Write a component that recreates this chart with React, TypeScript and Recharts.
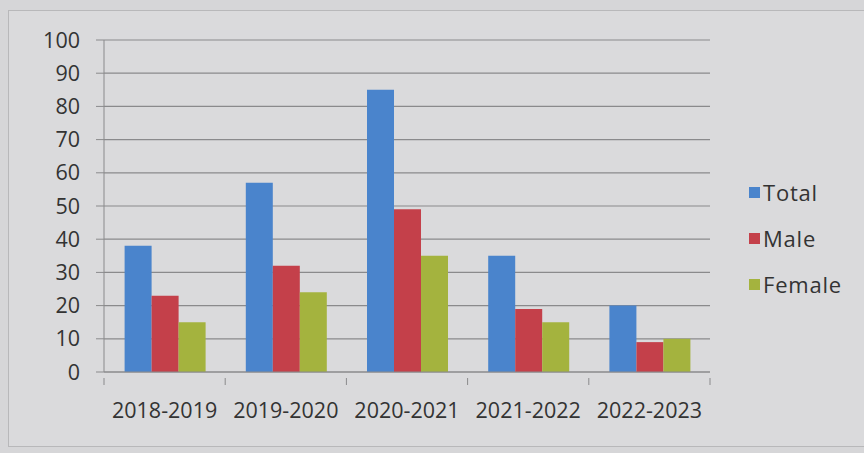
import React from 'react';
import { BarChart, Bar, XAxis, YAxis, CartesianGrid } from 'recharts';

const YEARS = ['2018-2019', '2019-2020', '2020-2021', '2021-2022', '2022-2023'];
const TOTAL = [38, 57, 85, 35, 20];
const MALE = [23, 32, 49, 19, 9];
const FEMALE = [15, 24, 35, 15, 10];
const Y_TICKS = [0, 10, 20, 30, 40, 50, 60, 70, 80, 90, 100];

const SERIES = [
  { key: 'Total', color: '#4a84cc' },
  { key: 'Male', color: '#c4404a' },
  { key: 'Female', color: '#a4b33e' },
];

const data = YEARS.map((year, i) => ({
  year,
  Total: TOTAL[i],
  Male: MALE[i],
  Female: FEMALE[i],
}));

const FONT = '"Open Sans", "Liberation Sans", sans-serif';
const AXIS = '#8a8a8c';

const W = 864;
const H = 453;
const M = { top: 40, right: 154, bottom: 20, left: 0 };
const Y_W = 104;
const HALF_BAND = (W - M.left - M.right - Y_W) / YEARS.length / 2;

// Excel puts category tick marks between the groups, not under them
const XTick = (props: any) => {
  const { x, y, payload, index } = props;
  const last = index === YEARS.length - 1;
  return (
    <g>
      <line x1={x - HALF_BAND} x2={x - HALF_BAND} y1={y - 2} y2={y + 5} stroke={AXIS} />
      {last && <line x1={x + HALF_BAND} x2={x + HALF_BAND} y1={y - 2} y2={y + 5} stroke={AXIS} />}
      <text
        x={x}
        y={y + 38}
        textAnchor="middle"
        fontFamily={FONT}
        fontSize={21.5}
        fill="#333"
      >
        {payload.value}
      </text>
    </g>
  );
};

const LegendBox = () => (
  <div
    style={{
      position: 'absolute',
      left: 749,
      top: 169,
      fontFamily: FONT,
      fontSize: 22,
      letterSpacing: 0.8,
      color: '#333',
    }}
  >
    {SERIES.map((s) => (
      <div key={s.key} style={{ display: 'flex', alignItems: 'center', height: 46 }}>
        <span style={{ width: 11, height: 11, background: s.color, marginRight: 3, display: 'inline-block' }} />
        <span>{s.key}</span>
      </div>
    ))}
  </div>
);

export default function App() {
  return (
    <div
      style={{
        position: 'fixed',
        left: 0,
        top: 0,
        width: W,
        height: H,
        background: '#d6d6d8',
      }}
    >
      <div
        style={{
          position: 'absolute',
          left: 8,
          top: 10,
          width: 870,
          height: 435,
          border: '1px solid #b8b8ba',
          background: '#dadadc',
        }}
      />
      <div style={{ position: 'absolute', left: 0, top: 0 }}>
        <BarChart
          width={W}
          height={H}
          data={data}
          margin={M}
          barCategoryGap="17%"
          barGap={0}
        >
          <CartesianGrid vertical={false} stroke={AXIS} strokeWidth={1.2} />
          <XAxis
            dataKey="year"
            height={61}
            axisLine={{ stroke: AXIS }}
            tickLine={false}
            interval={0}
            tick={<XTick />}
          />
          <YAxis
            width={Y_W}
            domain={[0, 100]}
            ticks={Y_TICKS}
            interval={0}
            axisLine={{ stroke: AXIS }}
            tickLine={{ stroke: AXIS }}
            tickSize={8}
            tick={{ fontFamily: FONT, fontSize: 21.5, fill: '#333', dx: -14 }}
          />
          {SERIES.map((s) => (
            <Bar key={s.key} dataKey={s.key} fill={s.color} isAnimationActive={false} />
          ))}
        </BarChart>
      </div>
      <LegendBox />
    </div>
  );
}
